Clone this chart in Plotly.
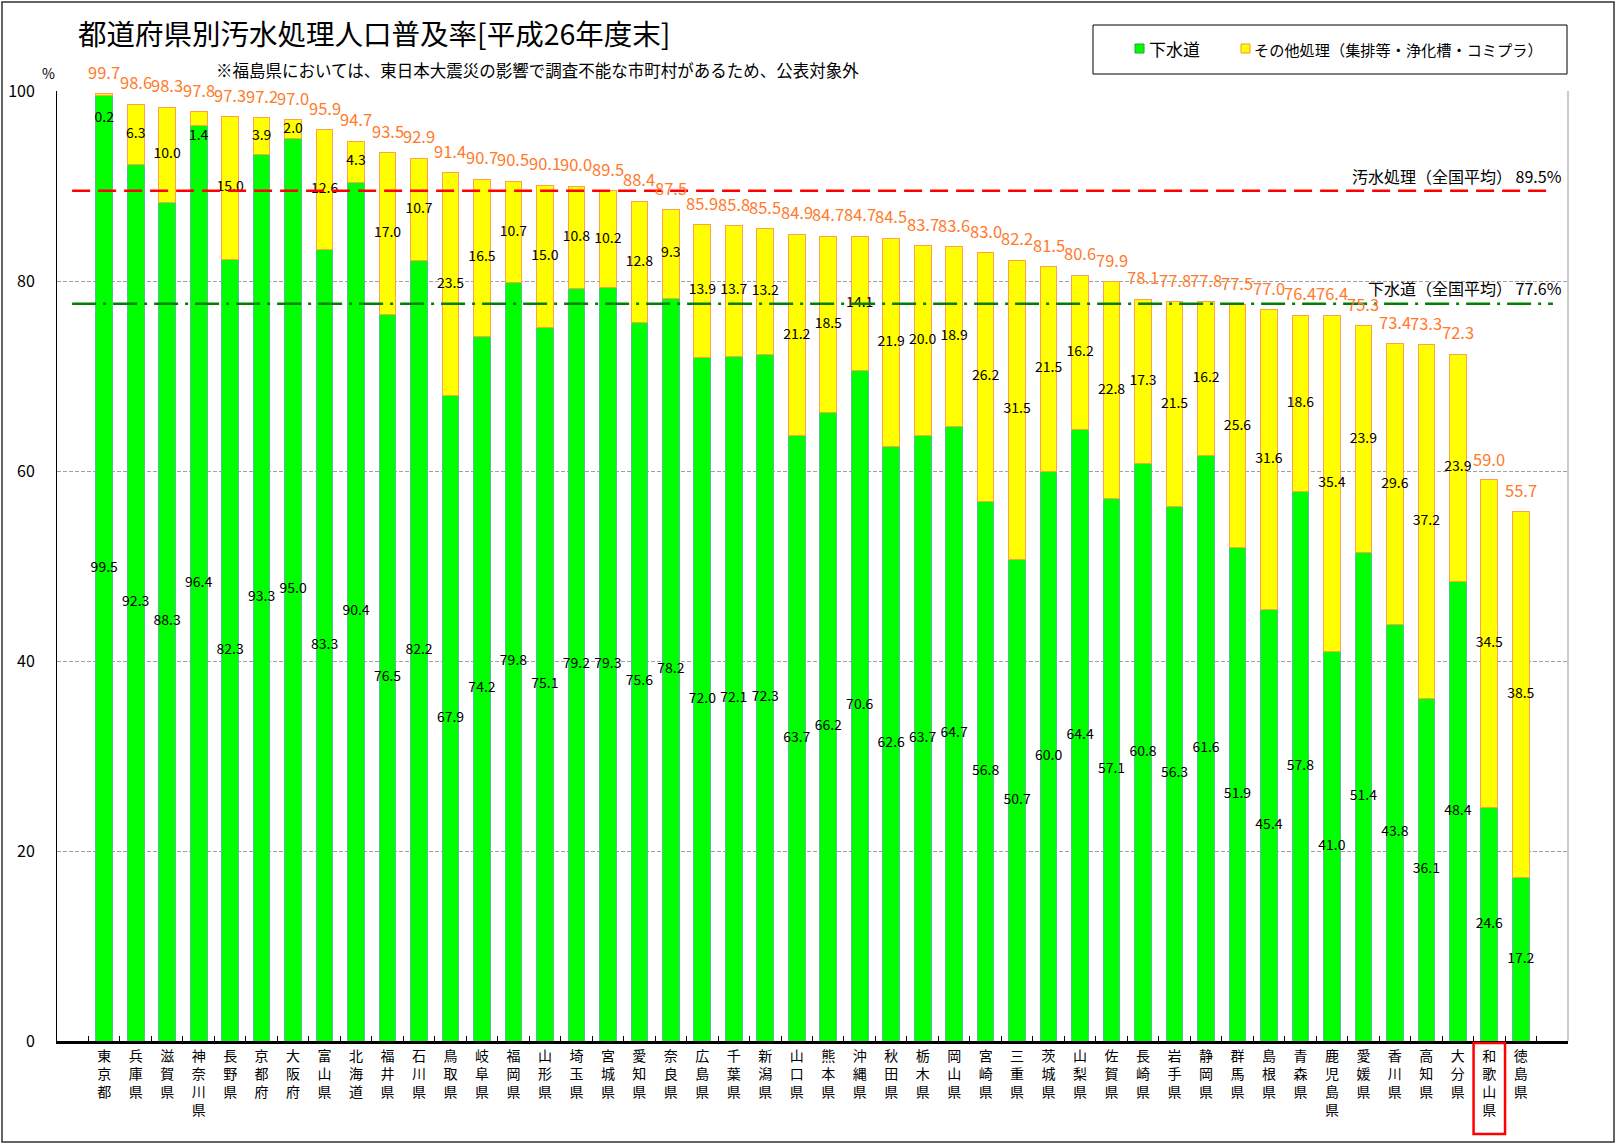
import plotly.graph_objects as go

prefs = ["東京都", "兵庫県", "滋賀県", "神奈川県", "長野県", "京都府", "大阪府", "富山県", "北海道", "福井県",
         "石川県", "鳥取県", "岐阜県", "福岡県", "山形県", "埼玉県", "宮城県", "愛知県", "奈良県", "広島県",
         "千葉県", "新潟県", "山口県", "熊本県", "沖縄県", "秋田県", "栃木県", "岡山県", "宮崎県", "三重県",
         "茨城県", "山梨県", "佐賀県", "長崎県", "岩手県", "静岡県", "群馬県", "島根県", "青森県", "鹿児島県",
         "愛媛県", "香川県", "高知県", "大分県", "和歌山県", "徳島県"]
sewer = [99.5, 92.3, 88.3, 96.4, 82.3, 93.3, 95.0, 83.3, 90.4, 76.5,
         82.2, 67.9, 74.2, 79.8, 75.1, 79.2, 79.3, 75.6, 78.2, 72.0,
         72.1, 72.3, 63.7, 66.2, 70.6, 62.6, 63.7, 64.7, 56.8, 50.7,
         60.0, 64.4, 57.1, 60.8, 56.3, 61.6, 51.9, 45.4, 57.8, 41.0,
         51.4, 43.8, 36.1, 48.4, 24.6, 17.2]
other = [0.2, 6.3, 10.0, 1.4, 15.0, 3.9, 2.0, 12.6, 4.3, 17.0,
         10.7, 23.5, 16.5, 10.7, 15.0, 10.8, 10.2, 12.8, 9.3, 13.9,
         13.7, 13.2, 21.2, 18.5, 14.1, 21.9, 20.0, 18.9, 26.2, 31.5,
         21.5, 16.2, 22.8, 17.3, 21.5, 16.2, 25.6, 31.6, 18.6, 35.4,
         23.9, 29.6, 37.2, 23.9, 34.5, 38.5]
total = [99.7, 98.6, 98.3, 97.8, 97.3, 97.2, 97.0, 95.9, 94.7, 93.5,
         92.9, 91.4, 90.7, 90.5, 90.1, 90.0, 89.5, 88.4, 87.5, 85.9,
         85.8, 85.5, 84.9, 84.7, 84.7, 84.5, 83.7, 83.6, 83.0, 82.2,
         81.5, 80.6, 79.9, 78.1, 77.8, 77.8, 77.5, 77.0, 76.4, 76.4,
         75.3, 73.4, 73.3, 72.3, 59.0, 55.7]
TOTAL_AVG = 89.5
SEWER_AVG = 77.6
highlight = "和歌山県"
y_ticks = [0, 20, 40, 60, 80, 100]
series_names = ["下水道", "その他処理（集排等・浄化槽・コミプラ）"]

# ---- layout geometry (pixels) ----
W, H = 1616, 1144
L, R, T, B = 57, 48, 91, 103
PW, PH = W - L - R, H - T - B


def px(x):
    return (x - L) / PW


def py(y):
    return (H - B - y) / PH


FONT = "Noto Sans CJK JP"
GREEN = "#00FF00"
GREEN_EDGE = "#55C08A"
YELLOW = "#FFFF00"
YELLOW_EDGE = "#FFA050"
ORANGE = "#FF7A2A"

vert = ["<br>".join(list(p)) for p in prefs]

fig = go.Figure()
fig.add_trace(go.Bar(x=prefs, y=sewer, name=series_names[0], showlegend=False,
                     marker=dict(color=GREEN, line=dict(color=GREEN_EDGE, width=1))))
fig.add_trace(go.Bar(x=prefs, y=other, name=series_names[1], showlegend=False,
                     marker=dict(color=YELLOW, line=dict(color=YELLOW_EDGE, width=1))))

# segment labels
sewer_pos = [s / 2 for s in sewer]
other_pos = [(t - 2.6) if o < 1.5 else (s + o / 2) for s, o, t in zip(sewer, other, total)]
fig.add_trace(go.Scatter(x=prefs, y=sewer_pos, mode="text", text=[f"{v:.1f}" for v in sewer],
                         textfont=dict(family=FONT, size=14, color="black"), showlegend=False,
                         hoverinfo="skip"))
fig.add_trace(go.Scatter(x=prefs, y=other_pos, mode="text", text=[f"{v:.1f}" for v in other],
                         textfont=dict(family=FONT, size=14, color="black"), showlegend=False,
                         hoverinfo="skip"))

annotations = []
for p, t in zip(prefs, total):
    annotations.append(dict(x=p, y=t, xref="x", yref="y", text=f"{t:.1f}", showarrow=False,
                            yshift=22, font=dict(family=FONT, size=16.5, color=ORANGE)))

annotations += [
    dict(x=px(76), y=py(32), xref="paper", yref="paper", xanchor="left", yanchor="middle",
         text="都道府県別汚水処理人口普及率[平成26年度末]", showarrow=False,
         font=dict(family=FONT, size=28.5, color="black")),
    dict(x=px(214), y=py(70), xref="paper", yref="paper", xanchor="left", yanchor="middle",
         text="※福島県においては、東日本大震災の影響で調査不能な市町村があるため、公表対象外",
         showarrow=False, font=dict(family=FONT, size=16.5, color="black")),
    dict(x=px(48), y=py(73), xref="paper", yref="paper", xanchor="center", yanchor="middle",
         text="%", showarrow=False, font=dict(family=FONT, size=14, color="black")),
    dict(x=px(1564), y=TOTAL_AVG, xref="paper", yref="y", xanchor="right", yanchor="middle",
         yshift=15, text=f"汚水処理（全国平均） {TOTAL_AVG:.1f}%", showarrow=False,
         font=dict(family=FONT, size=16, color="black")),
    dict(x=px(1564), y=SEWER_AVG, xref="paper", yref="y", xanchor="right", yanchor="middle",
         yshift=16, text=f"下水道（全国平均） {SEWER_AVG:.1f}%", showarrow=False,
         font=dict(family=FONT, size=16, color="black")),
    # manual legend texts
    dict(x=px(1147), y=py(49), xref="paper", yref="paper", xanchor="left", yanchor="middle",
         text=series_names[0], showarrow=False, font=dict(family=FONT, size=17, color="black")),
    dict(x=px(1252), y=py(49), xref="paper", yref="paper", xanchor="left", yanchor="middle",
         text=series_names[1], showarrow=False, font=dict(family=FONT, size=15.2, color="black")),
]

hi = prefs.index(highlight)
shapes = [
    dict(type="line", xref="paper", yref="y", x0=0.01, x1=0.99, y0=TOTAL_AVG, y1=TOTAL_AVG,
         line=dict(color="#FF0000", width=2.5, dash="18px,8px")),
    dict(type="line", xref="paper", yref="y", x0=0.01, x1=0.99, y0=SEWER_AVG, y1=SEWER_AVG,
         line=dict(color="#008000", width=2.5, dash="24px,7px,3px,7px")),
    dict(type="line", xref="paper", yref="paper", x0=1, x1=1, y0=0, y1=1,
         line=dict(color="#999999", width=1)),
    dict(type="rect", xref="x", yref="paper", x0=hi - 0.5, x1=hi + 0.5, y0=py(1043), y1=py(1134),
         line=dict(color="#FF0000", width=2.5)),
    # legend box and symbols
    dict(type="rect", xref="paper", yref="paper", x0=px(1093), x1=px(1567), y0=py(74), y1=py(25),
         line=dict(color="black", width=1)),
    dict(type="rect", xref="paper", yref="paper", x0=px(1135), x1=px(1144), y0=py(53), y1=py(44),
         fillcolor=GREEN, line=dict(color="#20A040", width=1)),
    dict(type="rect", xref="paper", yref="paper", x0=px(1241), x1=px(1250), y0=py(53), y1=py(44),
         fillcolor=YELLOW, line=dict(color="#FF9030", width=1)),
    # outer frame
    dict(type="rect", xref="paper", yref="paper", x0=px(2), x1=px(1614), y0=py(1142), y1=py(2),
         line=dict(color="#333333", width=1.5)),
]

fig.update_layout(
    width=W, height=H,
    margin=dict(l=L, r=R, t=T, b=B, autoexpand=False),
    barmode="stack", bargap=0.47,
    plot_bgcolor="white", paper_bgcolor="white",
    font=dict(family=FONT, color="black"),
    showlegend=False,
    xaxis=dict(type="category", range=[-1.5, len(prefs) + 0.5], tickvals=prefs, ticktext=vert,
               tickfont=dict(family=FONT, size=14, color="black"), showline=True,
               linecolor="black", linewidth=3, ticks="inside", ticklen=5, tickcolor="black",
               tickson="boundaries", showgrid=False, fixedrange=True, automargin=False),
    yaxis=dict(range=[0, 100], tickvals=y_ticks, tickfont=dict(family=FONT, size=16, color="black"),
               showline=True, linecolor="black", linewidth=1, showgrid=True,
               gridcolor="#A0A0A0", griddash="4px,2px", gridwidth=1, zeroline=False,
               ticks="", ticklabelstandoff=18, automargin=False),
    annotations=annotations,
    shapes=shapes,
)

fig.write_html("out.html", config={"displayModeBar": False},
               post_script="document.body.style.margin='0';document.body.style.overflow='hidden';")
